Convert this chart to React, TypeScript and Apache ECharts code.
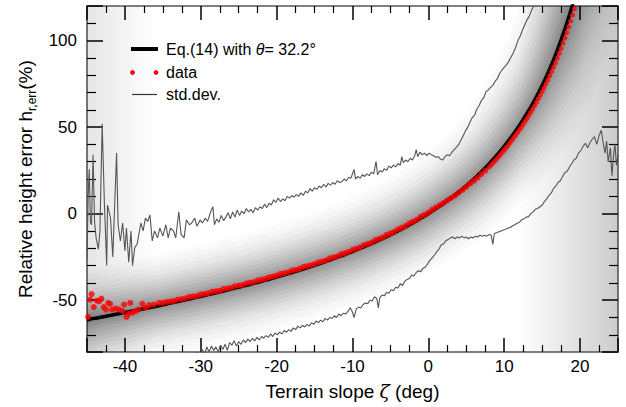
import React, { useEffect, useRef } from 'react';
import * as echarts from 'echarts';

// Eq.(14) curve, theta = 32.2 deg
const eqCurve: [number, number][] = [
  [-45, -61.4], [-44, -60.5], [-43, -59.7], [-42, -58.8], [-41, -58.0], [-40, -57.1], [-39, -56.3], [-38, -55.4],
  [-37, -54.5], [-36, -53.6], [-35, -52.7], [-34, -51.7], [-33, -50.8], [-32, -49.8], [-31, -48.8], [-30, -47.8],
  [-29, -46.8], [-28, -45.8], [-27, -44.7], [-26, -43.6], [-25, -42.5], [-24, -41.4], [-23, -40.3], [-22, -39.1],
  [-21, -37.9], [-20, -36.6], [-19, -35.4], [-18, -34.0], [-17, -32.7], [-16, -31.3], [-15, -29.9], [-14, -28.4],
  [-13, -26.8], [-12, -25.2], [-11, -23.6], [-10, -21.9], [-9, -20.1], [-8, -18.2], [-7, -16.3], [-6, -14.3],
  [-5, -12.2], [-4, -10.0], [-3, -7.7], [-2, -5.3], [-1, -2.7], [0, 0], [1, 2.9], [2, 5.9], [3, 9.1], [4, 12.5],
  [5, 16.1], [6, 20.0], [7, 24.2], [8, 28.7], [9, 33.6], [10, 38.9], [11, 44.7], [12, 51.0], [13, 57.9],
  [14, 65.5], [15, 74.0], [16, 83.6], [17, 94.4], [18, 106.6], [18.5, 113.4], [19, 120.6], [19.5, 128.5],
];

// red data points
const dataPts: [number, number][] = [
  [-44.85, -59.7], [-44.6, -49.7], [-44.4, -46.5], [-44.1, -54], [-43.7, -50.3], [-43.4, -50.6], [-43.1, -49.1],
  [-42.8, -54], [-42.5, -55.4], [-42.2, -51.6], [-41.95, -52.1], [-41.7, -55.4], [-41.2, -54.8], [-40.8, -55.4],
  [-40.3, -56.3], [-40.1, -52.5], [-39.8, -59.7], [-39.5, -57.8], [-39.3, -51.6], [-39.0, -57.2], [-38.6, -56.3],
  [-38.2, -55.4], [-37.7, -52.1], [-37.3, -54.4], [-36.8, -52.9], [-36.2, -52.5], [-35.5, -51.6],
  [-35, -51.5], [-34.5, -51.0], [-34, -50.7], [-33.5, -50.4], [-33, -49.6], [-32.5, -49.3], [-32, -48.9],
  [-31.5, -48.1], [-31, -47.8], [-30.5, -47.5], [-30, -46.6], [-29.5, -46.3], [-29, -45.9], [-28.5, -45.1],
  [-28, -44.8], [-27.5, -44.5], [-27, -43.5], [-26.5, -43.2], [-26, -42.8], [-25.5, -41.9], [-25, -41.5],
  [-24.5, -41.2], [-24, -40.2], [-23.5, -39.8], [-23, -39.5], [-22.5, -38.5], [-22, -38.1], [-21.5, -37.7],
  [-21, -36.7], [-20.5, -36.3], [-20, -35.8], [-19.5, -34.8], [-19, -34.4], [-18.5, -33.9], [-18, -32.8],
  [-17.5, -32.4], [-17, -31.9], [-16.5, -30.8], [-16, -30.3], [-15.5, -29.8], [-15, -29.1], [-14.5, -28.1],
  [-14, -27.6], [-13.5, -27.0], [-13, -25.8], [-12.5, -25.2], [-12, -24.6], [-11.5, -23.4], [-11, -22.8],
  [-10.5, -22.1], [-10, -20.9], [-9.5, -20.2], [-9, -19.5], [-8.5, -18.2], [-8, -17.4], [-7.5, -16.7],
  [-7, -15.3], [-6.5, -14.5], [-6, -13.7], [-5.5, -12.3], [-5, -11.4], [-4.5, -10.5], [-4, -9.0], [-3.5, -8.1],
  [-3, -7.1], [-2.5, -5.5], [-2, -4.5], [-1.5, -3.4], [-1, -1.7], [-0.5, -0.6], [0, 0.6], [0.5, 2.3], [1, 3.6],
  [1.5, 4.9], [2, 6.3], [2.5, 7.7], [3, 9.1], [3.5, 10.4], [4, 12.1], [4.5, 13.8], [5, 15.5], [5.5, 17.3],
  [6, 19.0], [6.5, 20.8], [7, 22.9], [7.5, 24.8],
  [8.0, 26.9], [8.25, 28.0], [8.5, 29.2], [8.75, 30.4], [9.0, 31.6], [9.25, 32.9], [9.5, 34.1], [9.75, 35.4],
  [10.0, 36.7], [10.25, 38.1], [10.5, 39.4], [10.75, 40.9], [11.0, 42.3], [11.25, 43.8], [11.5, 45.3],
  [11.75, 46.8], [12.0, 48.4], [12.25, 50.0], [12.5, 51.6], [12.75, 53.3], [13.0, 55.0], [13.25, 56.8],
  [13.5, 58.6], [13.75, 60.5], [14.0, 62.4], [14.25, 64.4], [14.5, 66.4], [14.75, 68.4], [15.0, 70.6],
  [15.25, 72.7], [15.5, 75.0], [15.75, 77.3], [16.0, 79.7], [16.25, 82.1], [16.5, 84.6], [16.75, 87.2],
  [17.0, 89.9], [17.25, 92.7], [17.5, 95.5], [17.75, 98.5], [18.0, 101.5], [18.25, 104.7], [18.5, 107.9],
  [18.75, 111.3], [19.0, 114.8], [19.25, 118.4], [19.5, 122.2],
];

// upper std.dev. line
const stdUpper: [number, number][] = [
  [-45.0, -27], [-44.85, 10], [-44.7, 25.6], [-44.55, -5], [-44.4, -6.4], [-44.2, 34], [-44.0, -5], [-43.8, -14],
  [-43.5, -20.5], [-43.3, -10], [-43.0, 52], [-42.7, 5], [-42.4, -30], [-42.3, 5], [-41.9, -2.6], [-41.6, -25],
  [-41.1, 35], [-40.9, -6.4], [-40.6, -15.8], [-40.3, -5.4], [-40.0, -21.5], [-39.8, -8.3], [-39.5, -28],
  [-39.2, -10], [-39.0, -30], [-38.7, -19.5], [-38.4, -17.7], [-37.9, -5.4], [-37.6, -10], [-37.3, -2.6],
  [-37.0, -4.5], [-36.7, -0.7], [-36.4, -15.8], [-36.1, -10], [-35.7, -14], [-35.4, -8.3], [-35.0, -13],
  [-34.6, -6.4], [-34.3, -14], [-34.0, -8.3], [-33.6, -10], [-33.3, -14], [-32.9, 1.1], [-32.6, -12],
  [-32.2, -14], [-31.9, -3.6], [-31.5, -6.4], [-31.2, -5.4], [-30.8, -2.6], [-30.5, -7.3], [-30.1, -3.6],
  [-29.8, -5.4], [-29.4, -2.6], [-29.1, -4.5], [-28.7, 1.1], [-28.4, 4], [-28.2, -6.4], [-27.9, -3], [-27.6, -5],
  [-27.3, -1], [-27.0, -4], [-26.7, -2], [-26.4, 0.5], [-26.1, -3], [-25.8, 1], [-25.5, -2], [-25.2, 2],
  [-24.9, -1], [-24.6, 1.5], [-24.3, 0], [-24.0, 3], [-23.7, 1], [-23.4, 2.5], [-23.1, 0.5], [-22.8, 3.5],
  [-22.5, 2], [-22.2, 4], [-21.9, 3], [-21.6, 5.5], [-21.3, 3.5], [-21.0, 6], [-20.7, 5], [-20.4, 8],
  [-20.1, 6.5], [-19.8, 9], [-19.5, 7], [-19.2, 8.5], [-18.9, 7.5], [-18.6, 10], [-18.3, 9], [-18.0, 10.5],
  [-17.7, 9.5], [-17.4, 11], [-17.1, 10], [-16.8, 12], [-16.5, 10.5], [-16.2, 13], [-15.9, 12], [-15.6, 14.5],
  [-15.3, 13], [-15.0, 15], [-14.7, 14], [-14.4, 16], [-14.1, 15], [-13.8, 17], [-13.5, 15.5], [-13.2, 17.5],
  [-12.9, 16.5], [-12.6, 18], [-12.3, 17], [-12.0, 19], [-11.7, 18], [-11.4, 18.5], [-11.1, 20], [-10.8, 19],
  [-10.5, 21], [-10.2, 20.5], [-9.8, 25.6], [-9.6, 20], [-9.3, 21.5], [-9.0, 20.5], [-8.7, 22.5], [-8.4, 21.5],
  [-8.1, 23], [-7.8, 22], [-7.5, 24], [-7.2, 23], [-6.9, 30.3], [-6.7, 22.5], [-6.4, 25], [-6.1, 24],
  [-5.8, 26], [-5.5, 25], [-5.2, 27.5], [-4.9, 26.5], [-4.6, 28], [-4.3, 27], [-4.0, 29], [-3.7, 28],
  [-3.5, 33], [-3.3, 29.5], [-3.0, 31], [-2.7, 30], [-2.4, 32], [-2.1, 31], [-1.8, 33.5], [-1.6, 37],
  [-1.4, 33], [-1.1, 35.5], [-0.8, 34], [-0.5, 35], [-0.2, 33.5], [0.1, 35], [0.4, 34], [0.7, 33.5],
  [1.0, 32.5], [1.3, 33], [1.6, 31.5], [1.9, 31], [2.2, 33], [2.5, 34], [2.8, 33.5], [3.1, 35.5], [3.4, 37],
  [3.7, 38.5], [4.0, 40], [4.3, 42.5], [4.6, 45], [4.9, 48], [5.2, 50], [5.5, 53], [5.8, 55.5], [6.1, 57],
  [6.4, 60.5], [6.7, 62.5], [7.0, 65.5], [7.3, 67], [7.6, 70.5], [7.9, 71.5], [8.2, 73], [8.5, 74], [8.8, 76.5],
  [9.1, 78], [9.4, 81], [9.7, 83], [10.0, 84.5], [10.3, 86], [10.6, 88], [10.9, 90.5], [11.2, 93], [11.5, 96],
  [11.8, 100], [12.1, 102.5], [12.4, 106], [12.7, 109], [13.0, 112], [13.3, 114], [13.6, 117.5], [13.9, 120],
  [14.1, 123],
];

// lower std.dev. line
const stdLower: [number, number][] = [
  [-31.0, -84], [-30.5, -80], [-30.1, -82], [-29.8, -78.5], [-29.5, -81], [-29.2, -77], [-28.9, -80],
  [-28.6, -76.5], [-28.3, -79], [-28.0, -77], [-27.7, -80], [-27.4, -76], [-27.1, -78.5], [-26.8, -75.5],
  [-26.5, -79], [-26.2, -74.5], [-25.9, -76], [-25.6, -73.5], [-25.3, -76.5], [-25.0, -74], [-24.7, -75.5],
  [-24.4, -73], [-24.1, -74.5], [-23.8, -72.5], [-23.5, -74], [-23.2, -72], [-22.9, -73.5], [-22.6, -71.5],
  [-22.3, -73], [-22.0, -71], [-21.7, -72], [-21.4, -70.5], [-21.1, -71.5], [-20.8, -69.5], [-20.5, -71],
  [-20.2, -69], [-19.9, -70], [-19.6, -68.5], [-19.3, -69.5], [-19.0, -67.5], [-18.7, -68.5], [-18.4, -67],
  [-18.1, -68], [-17.8, -66], [-17.5, -67], [-17.2, -65], [-16.9, -66], [-16.6, -64.5], [-16.3, -65.5],
  [-16.0, -64], [-15.7, -65], [-15.4, -63], [-15.1, -64], [-14.8, -62], [-14.5, -63], [-14.2, -61.5],
  [-13.9, -62.5], [-13.6, -60.5], [-13.3, -61.5], [-13.0, -60], [-12.7, -60.5], [-12.4, -59], [-12.1, -60],
  [-11.8, -58], [-11.5, -59], [-11.2, -57.5], [-10.9, -58], [-10.6, -56.5], [-10.3, -54.4], [-10.0, -57],
  [-9.8, -60], [-9.5, -55], [-9.2, -54], [-8.9, -54.5], [-8.6, -52.5], [-8.3, -51.6], [-8.0, -52], [-7.7, -50],
  [-7.4, -50.5], [-7.1, -48], [-6.8, -49], [-6.6, -54.4], [-6.4, -48.5], [-6.1, -47], [-5.8, -47.5],
  [-5.5, -45.5], [-5.2, -46], [-4.9, -44], [-4.6, -44.5], [-4.3, -42.5], [-4.0, -43], [-3.7, -40.5],
  [-3.4, -41.5], [-3.1, -39], [-2.8, -38], [-2.5, -37.5], [-2.2, -35.5], [-1.9, -36], [-1.6, -34], [-1.3, -33],
  [-1.0, -33.5], [-0.7, -31.5], [-0.4, -30.8], [-0.1, -29], [0.2, -27], [0.5, -25.5], [0.8, -24], [1.1, -22],
  [1.4, -20.5], [1.7, -18], [2.0, -17.5], [2.3, -15.5], [2.6, -15], [2.9, -14], [3.2, -13.5], [3.5, -14.5],
  [3.8, -13.5], [4.1, -14], [4.4, -13], [4.7, -14], [5.0, -13.5], [5.3, -14.5], [5.6, -13.5], [5.9, -14],
  [6.2, -13], [6.5, -13.5], [6.8, -12.5], [7.1, -13], [7.4, -12.5], [7.7, -13], [8.0, -12], [8.3, -12.5],
  [8.5, -17.7], [8.7, -11.5], [9.0, -11], [9.3, -10.5], [9.6, -10], [9.9, -9.5], [10.2, -9], [10.5, -8.3],
  [10.8, -8], [11.1, -7], [11.4, -6.4], [11.7, -5.5], [12.0, -5], [12.3, -3.5], [12.6, -3], [12.9, -2],
  [13.2, -1.7], [13.5, 0], [13.8, 1], [14.1, 2.5], [14.4, 3], [14.7, 4], [15.0, 4.9], [15.3, 7], [15.6, 8.5],
  [15.9, 10.6], [16.2, 12], [16.5, 14.5], [16.8, 16], [17.1, 18], [17.4, 19], [17.7, 21.5], [18.0, 23.7],
  [18.3, 24.5], [18.6, 27], [18.9, 29], [19.2, 31], [19.5, 32], [19.8, 35], [20.1, 36.5], [20.4, 39],
  [20.7, 40.7], [21.0, 38], [21.3, 41], [21.6, 43], [21.9, 44.5], [22.2, 40], [22.5, 45], [22.8, 48.2],
  [23.0, 42], [23.3, 35], [23.5, 42], [23.7, 30], [24.0, 38], [24.2, 21.9], [24.4, 33], [24.6, 40],
  [24.8, 28], [25.0, 34],
];

const xExtent = [-45, 25];
const yExtent = [-80, 120];
const xMajor = 10;
const yMajor = 50;

// density-shading layers around the curve: [stroke width px, opacity]
const haloLayers: [number, number][] = [
  [100, 0.02], [90, 0.02], [80, 0.025], [70, 0.03], [60, 0.035], [52, 0.04],
  [44, 0.045], [36, 0.05], [28, 0.055], [20, 0.06], [14, 0.06], [8, 0.05],
];

const FONT = 'Liberation Sans';

export default function App() {
  const ref = useRef<HTMLDivElement>(null);

  useEffect(() => {
    document.body.style.margin = '0';
    const chart = echarts.init(ref.current!, null, { renderer: 'svg' });

    const tickStyle = { color: '#000', width: 1.5 };
    const frame = { show: true, onZero: false, lineStyle: { color: '#555', width: 1.6 } };

    const xBase = {
      type: 'value' as const,
      min: xExtent[0],
      max: xExtent[1],
      minInterval: xMajor,
      maxInterval: xMajor,
      splitNumber: 7,
      axisLine: frame,
      axisTick: { show: true, inside: true, length: 14, lineStyle: tickStyle },
      minorTick: { show: true, splitNumber: 4, length: 7, lineStyle: { color: '#000', width: 1.2 } },
      splitLine: { show: false },
      minorSplitLine: { show: false },
    };
    const yBase = {
      type: 'value' as const,
      min: yExtent[0],
      max: yExtent[1],
      minInterval: yMajor,
      maxInterval: yMajor,
      splitNumber: 4,
      axisLine: frame,
      axisTick: { show: true, inside: true, length: 16, lineStyle: tickStyle },
      minorTick: { show: true, splitNumber: 5, length: 9, lineStyle: { color: '#000', width: 1.2 } },
      splitLine: { show: false },
      minorSplitLine: { show: false },
    };

    const option: any = {
      animation: false,
      backgroundColor: '#fff',
      grid: { left: 87, right: 8, top: 6, bottom: 46, containLabel: false },
      xAxis: [
        {
          ...xBase,
          position: 'bottom',
          axisLabel: {
            show: true, color: '#000', fontFamily: FONT, fontSize: 17, margin: 6,
            showMinLabel: false, showMaxLabel: false,
          },
          name: 'Terrain slope {i|ζ} (deg)',
          nameLocation: 'middle',
          nameGap: 21,
          nameTextStyle: {
            color: '#000', fontFamily: FONT, fontSize: 19, lineHeight: 22,
            rich: { i: { fontStyle: 'italic', fontFamily: 'DejaVu Serif', fontSize: 19, lineHeight: 22 } },
          },
        },
        { ...xBase, position: 'top', axisLabel: { show: false } },
      ],
      yAxis: [
        {
          ...yBase,
          position: 'left',
          axisLabel: {
            show: true, color: '#000', fontFamily: FONT, fontSize: 17, margin: 10,
            showMinLabel: false, showMaxLabel: false,
          },
          name: 'Relative height error h{sub|r,err}(%)',
          nameLocation: 'middle',
          nameGap: 48,
          nameTextStyle: {
            color: '#000', fontFamily: FONT, fontSize: 19, lineHeight: 24,
            rich: { sub: { fontFamily: FONT, fontSize: 12, lineHeight: 12, verticalAlign: 'bottom' } },
          },
        },
        { ...yBase, position: 'right', axisLabel: { show: false } },
      ],
      series: [
        {
          name: 'background',
          type: 'line',
          data: [],
          silent: true,
          z: 0,
          markArea: {
            silent: true,
            z: 0,
            data: [
              [
                {
                  xAxis: -45, yAxis: -80,
                  itemStyle: {
                    color: new echarts.graphic.LinearGradient(0, 0, 1, 0, [
                      { offset: 0, color: 'rgba(0,0,0,0.10)' },
                      { offset: 1, color: 'rgba(0,0,0,0)' },
                    ]),
                  },
                },
                { xAxis: -36, yAxis: 120 },
              ],
              [
                {
                  xAxis: 12, yAxis: -80,
                  itemStyle: {
                    color: new echarts.graphic.LinearGradient(0, 0, 1, 0, [
                      { offset: 0, color: 'rgba(0,0,0,0)' },
                      { offset: 1, color: 'rgba(0,0,0,0.2)' },
                    ]),
                  },
                },
                { xAxis: 25, yAxis: 120 },
              ],
            ],
          },
        },
        {
          name: 'density',
          type: 'custom',
          data: eqCurve,
          clip: true,
          silent: true,
          z: 1,
          renderItem: (params: any, api: any) => {
            if (params.dataIndex !== 0) return null;
            const pts = eqCurve.map((p) => api.coord(p));
            return {
              type: 'group',
              children: haloLayers.map(([w, a]) => ({
                type: 'polyline',
                shape: { points: pts, smooth: 0.3 },
                style: { stroke: `rgba(0,0,0,${a})`, lineWidth: w, fill: null, lineJoin: 'round', lineCap: 'round' },
              })),
            };
          },
        },
        {
          name: 'std.dev. upper',
          type: 'line',
          data: stdUpper,
          showSymbol: false,
          silent: true,
          z: 3,
          lineStyle: { width: 1.1, color: '#555' },
        },
        {
          name: 'std.dev. lower',
          type: 'line',
          data: stdLower,
          showSymbol: false,
          silent: true,
          z: 3,
          lineStyle: { width: 1.1, color: '#555' },
        },
        {
          name: 'Eq.(14)',
          type: 'line',
          data: eqCurve,
          smooth: 0.3,
          showSymbol: false,
          silent: true,
          z: 4,
          lineStyle: { width: 3.5, color: '#000' },
        },
        {
          name: 'data',
          type: 'scatter',
          data: dataPts,
          symbol: 'circle',
          symbolSize: (v: number[]) => (v[0] < 8 ? 6 : 5),
          silent: true,
          z: 5,
          itemStyle: { color: '#ff0000' },
        },
      ],
      graphic: [
        { type: 'line', shape: { x1: 131, y1: 49, x2: 158, y2: 49 }, style: { stroke: '#000', lineWidth: 4 }, z: 10 },
        {
          type: 'text', x: 166, y: 49, z: 10,
          style: {
            text: 'Eq.(14) with {i|θ}= 32.2°',
            fontFamily: FONT, fontSize: 16, fill: '#000', verticalAlign: 'middle',
            rich: { i: { fontStyle: 'italic', fontFamily: FONT, fontSize: 16 } },
          },
        },
        { type: 'circle', shape: { cx: 132.5, cy: 72.5, r: 2.4 }, style: { fill: '#ff0000' }, z: 10 },
        { type: 'circle', shape: { cx: 156, cy: 72.5, r: 2.4 }, style: { fill: '#ff0000' }, z: 10 },
        {
          type: 'text', x: 166, y: 72.5, z: 10,
          style: { text: 'data', fontFamily: FONT, fontSize: 16, fill: '#000', verticalAlign: 'middle' },
        },
        { type: 'line', shape: { x1: 132, y1: 94.5, x2: 157, y2: 94.5 }, style: { stroke: '#333', lineWidth: 1.2 }, z: 10 },
        {
          type: 'text', x: 166, y: 94.5, z: 10,
          style: { text: 'std.dev.', fontFamily: FONT, fontSize: 16, fill: '#000', verticalAlign: 'middle' },
        },
      ],
    };

    chart.setOption(option);
    return () => chart.dispose();
  }, []);

  return (
    <div
      ref={ref}
      style={{ position: 'absolute', left: 0, top: 0, width: 626, height: 407, background: '#fff' }}
    />
  );
}
